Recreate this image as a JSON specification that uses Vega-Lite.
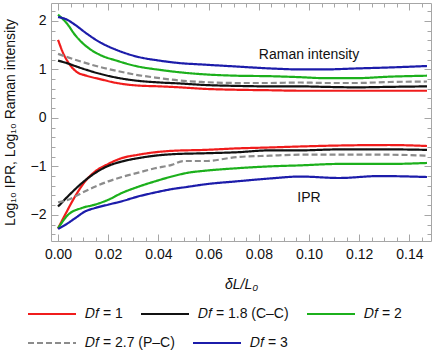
{
  "$schema": "https://vega.github.io/schema/vega-lite/v6.json",
  "width": 380,
  "height": 238,
  "autosize": {"type": "none"},
  "padding": {"left": 51, "top": 3, "right": 5, "bottom": 118},
  "config": {
    "font": "Liberation Sans",
    "view": {"stroke": "#a6a6a6", "strokeWidth": 1},
    "axis": {"domain": false, "grid": false, "tickColor": "#a6a6a6", "labelColor": "#111", "titleColor": "#111", "labelFont": "Liberation Sans", "titleFont": "Liberation Sans", "labelFontSize": 14, "titleFontSize": 14, "titleFontWeight": "normal"},
    "legend": {"labelFont": "Liberation Sans"}
  },
  "datasets": {
    "lines": [
      {"s":"1","q":"R","x":0,"y":1.61},{"s":"1","q":"R","x":0.0021,"y":1.33},{"s":"1","q":"R","x":0.0048,"y":1.09},{"s":"1","q":"R","x":0.0074,"y":0.95},{"s":"1","q":"R","x":0.0114,"y":0.87},{"s":"1","q":"R","x":0.0167,"y":0.80},{"s":"1","q":"R","x":0.0234,"y":0.72},{"s":"1","q":"R","x":0.031,"y":0.67},{"s":"1","q":"R","x":0.0406,"y":0.65},{"s":"1","q":"R","x":0.0486,"y":0.63},{"s":"1","q":"R","x":0.0578,"y":0.60},{"s":"1","q":"R","x":0.071,"y":0.58},{"s":"1","q":"R","x":0.0845,"y":0.57},{"s":"1","q":"R","x":0.0964,"y":0.56},{"s":"1","q":"R","x":0.106,"y":0.56},{"s":"1","q":"R","x":0.119,"y":0.56},{"s":"1","q":"R","x":0.132,"y":0.56},{"s":"1","q":"R","x":0.147,"y":0.56},
      {"s":"1.8","q":"R","x":0,"y":1.18},{"s":"1.8","q":"R","x":0.0035,"y":1.13},{"s":"1.8","q":"R","x":0.0068,"y":1.07},{"s":"1.8","q":"R","x":0.0114,"y":0.99},{"s":"1.8","q":"R","x":0.0167,"y":0.91},{"s":"1.8","q":"R","x":0.0234,"y":0.83},{"s":"1.8","q":"R","x":0.031,"y":0.77},{"s":"1.8","q":"R","x":0.0406,"y":0.73},{"s":"1.8","q":"R","x":0.0486,"y":0.71},{"s":"1.8","q":"R","x":0.0578,"y":0.68},{"s":"1.8","q":"R","x":0.071,"y":0.66},{"s":"1.8","q":"R","x":0.0845,"y":0.65},{"s":"1.8","q":"R","x":0.0964,"y":0.65},{"s":"1.8","q":"R","x":0.106,"y":0.64},{"s":"1.8","q":"R","x":0.119,"y":0.63},{"s":"1.8","q":"R","x":0.132,"y":0.64},{"s":"1.8","q":"R","x":0.147,"y":0.65},
      {"s":"2","q":"R","x":0,"y":2.13},{"s":"2","q":"R","x":0.0035,"y":1.95},{"s":"2","q":"R","x":0.0068,"y":1.71},{"s":"2","q":"R","x":0.0114,"y":1.47},{"s":"2","q":"R","x":0.0167,"y":1.30},{"s":"2","q":"R","x":0.0234,"y":1.18},{"s":"2","q":"R","x":0.031,"y":1.07},{"s":"2","q":"R","x":0.0406,"y":0.99},{"s":"2","q":"R","x":0.0486,"y":0.94},{"s":"2","q":"R","x":0.0578,"y":0.90},{"s":"2","q":"R","x":0.071,"y":0.87},{"s":"2","q":"R","x":0.0845,"y":0.86},{"s":"2","q":"R","x":0.0964,"y":0.84},{"s":"2","q":"R","x":0.106,"y":0.82},{"s":"2","q":"R","x":0.119,"y":0.82},{"s":"2","q":"R","x":0.132,"y":0.85},{"s":"2","q":"R","x":0.147,"y":0.87},
      {"s":"2.7","q":"R","x":0,"y":1.32},{"s":"2.7","q":"R","x":0.0068,"y":1.20},{"s":"2.7","q":"R","x":0.0167,"y":1.05},{"s":"2.7","q":"R","x":0.0234,"y":0.97},{"s":"2.7","q":"R","x":0.031,"y":0.89},{"s":"2.7","q":"R","x":0.0406,"y":0.82},{"s":"2.7","q":"R","x":0.0486,"y":0.77},{"s":"2.7","q":"R","x":0.0578,"y":0.74},{"s":"2.7","q":"R","x":0.071,"y":0.72},{"s":"2.7","q":"R","x":0.0845,"y":0.72},{"s":"2.7","q":"R","x":0.0964,"y":0.73},{"s":"2.7","q":"R","x":0.106,"y":0.72},{"s":"2.7","q":"R","x":0.119,"y":0.72},{"s":"2.7","q":"R","x":0.132,"y":0.74},{"s":"2.7","q":"R","x":0.147,"y":0.75},
      {"s":"3","q":"R","x":0,"y":2.08},{"s":"3","q":"R","x":0.003,"y":2.04},{"s":"3","q":"R","x":0.0068,"y":1.92},{"s":"3","q":"R","x":0.0114,"y":1.74},{"s":"3","q":"R","x":0.0167,"y":1.56},{"s":"3","q":"R","x":0.0234,"y":1.40},{"s":"3","q":"R","x":0.031,"y":1.27},{"s":"3","q":"R","x":0.0406,"y":1.18},{"s":"3","q":"R","x":0.0486,"y":1.13},{"s":"3","q":"R","x":0.0578,"y":1.10},{"s":"3","q":"R","x":0.071,"y":1.06},{"s":"3","q":"R","x":0.0845,"y":1.02},{"s":"3","q":"R","x":0.0964,"y":1.00},{"s":"3","q":"R","x":0.106,"y":1.00},{"s":"3","q":"R","x":0.119,"y":1.02},{"s":"3","q":"R","x":0.132,"y":1.04},{"s":"3","q":"R","x":0.147,"y":1.07},
      {"s":"1","q":"I","x":0,"y":-2.28},{"s":"1","q":"I","x":0.0028,"y":-2.0},{"s":"1","q":"I","x":0.0068,"y":-1.62},{"s":"1","q":"I","x":0.0108,"y":-1.31},{"s":"1","q":"I","x":0.0147,"y":-1.11},{"s":"1","q":"I","x":0.02,"y":-0.95},{"s":"1","q":"I","x":0.0254,"y":-0.83},{"s":"1","q":"I","x":0.032,"y":-0.76},{"s":"1","q":"I","x":0.0386,"y":-0.71},{"s":"1","q":"I","x":0.0453,"y":-0.68},{"s":"1","q":"I","x":0.0586,"y":-0.66},{"s":"1","q":"I","x":0.071,"y":-0.63},{"s":"1","q":"I","x":0.0845,"y":-0.61},{"s":"1","q":"I","x":0.0964,"y":-0.59},{"s":"1","q":"I","x":0.112,"y":-0.57},{"s":"1","q":"I","x":0.132,"y":-0.56},{"s":"1","q":"I","x":0.147,"y":-0.58},
      {"s":"1.8","q":"I","x":0,"y":-1.83},{"s":"1.8","q":"I","x":0.0041,"y":-1.61},{"s":"1.8","q":"I","x":0.0094,"y":-1.35},{"s":"1.8","q":"I","x":0.0147,"y":-1.14},{"s":"1.8","q":"I","x":0.02,"y":-0.99},{"s":"1.8","q":"I","x":0.0254,"y":-0.90},{"s":"1.8","q":"I","x":0.032,"y":-0.83},{"s":"1.8","q":"I","x":0.0386,"y":-0.78},{"s":"1.8","q":"I","x":0.0453,"y":-0.75},{"s":"1.8","q":"I","x":0.0586,"y":-0.73},{"s":"1.8","q":"I","x":0.071,"y":-0.71},{"s":"1.8","q":"I","x":0.0845,"y":-0.67},{"s":"1.8","q":"I","x":0.0964,"y":-0.67},{"s":"1.8","q":"I","x":0.112,"y":-0.65},{"s":"1.8","q":"I","x":0.132,"y":-0.65},{"s":"1.8","q":"I","x":0.147,"y":-0.66},
      {"s":"2","q":"I","x":0,"y":-2.28},{"s":"2","q":"I","x":0.004,"y":-2.0},{"s":"2","q":"I","x":0.0094,"y":-1.86},{"s":"2","q":"I","x":0.0147,"y":-1.79},{"s":"2","q":"I","x":0.02,"y":-1.69},{"s":"2","q":"I","x":0.0254,"y":-1.55},{"s":"2","q":"I","x":0.032,"y":-1.42},{"s":"2","q":"I","x":0.0386,"y":-1.31},{"s":"2","q":"I","x":0.0453,"y":-1.21},{"s":"2","q":"I","x":0.052,"y":-1.13},{"s":"2","q":"I","x":0.0586,"y":-1.09},{"s":"2","q":"I","x":0.071,"y":-1.04},{"s":"2","q":"I","x":0.0845,"y":-1.0},{"s":"2","q":"I","x":0.0964,"y":-0.98},{"s":"2","q":"I","x":0.112,"y":-0.95},{"s":"2","q":"I","x":0.132,"y":-0.95},{"s":"2","q":"I","x":0.147,"y":-0.93},
      {"s":"2.7","q":"I","x":0,"y":-1.74},{"s":"2.7","q":"I","x":0.0041,"y":-1.69},{"s":"2.7","q":"I","x":0.0094,"y":-1.55},{"s":"2.7","q":"I","x":0.0147,"y":-1.42},{"s":"2.7","q":"I","x":0.02,"y":-1.31},{"s":"2.7","q":"I","x":0.0254,"y":-1.22},{"s":"2.7","q":"I","x":0.032,"y":-1.13},{"s":"2.7","q":"I","x":0.0386,"y":-1.04},{"s":"2.7","q":"I","x":0.0453,"y":-0.97},{"s":"2.7","q":"I","x":0.05,"y":-0.89},{"s":"2.7","q":"I","x":0.0586,"y":-0.89},{"s":"2.7","q":"I","x":0.071,"y":-0.81},{"s":"2.7","q":"I","x":0.0845,"y":-0.78},{"s":"2.7","q":"I","x":0.0964,"y":-0.76},{"s":"2.7","q":"I","x":0.112,"y":-0.76},{"s":"2.7","q":"I","x":0.132,"y":-0.76},{"s":"2.7","q":"I","x":0.147,"y":-0.78},
      {"s":"3","q":"I","x":0,"y":-2.29},{"s":"3","q":"I","x":0.0028,"y":-2.21},{"s":"3","q":"I","x":0.0068,"y":-2.07},{"s":"3","q":"I","x":0.0108,"y":-1.93},{"s":"3","q":"I","x":0.0147,"y":-1.86},{"s":"3","q":"I","x":0.02,"y":-1.79},{"s":"3","q":"I","x":0.0254,"y":-1.72},{"s":"3","q":"I","x":0.032,"y":-1.62},{"s":"3","q":"I","x":0.0386,"y":-1.54},{"s":"3","q":"I","x":0.0453,"y":-1.47},{"s":"3","q":"I","x":0.052,"y":-1.42},{"s":"3","q":"I","x":0.0586,"y":-1.37},{"s":"3","q":"I","x":0.071,"y":-1.31},{"s":"3","q":"I","x":0.0845,"y":-1.25},{"s":"3","q":"I","x":0.0964,"y":-1.21},{"s":"3","q":"I","x":0.112,"y":-1.24},{"s":"3","q":"I","x":0.128,"y":-1.20},{"s":"3","q":"I","x":0.147,"y":-1.22}
    ],
    "notes": [
      {"x": 0.10, "y": 1.29, "t": "Raman intensity"},
      {"x": 0.10, "y": -1.65, "t": "IPR"}
    ]
  },
  "layer": [
    {
      "data": {"name": "lines"},
      "mark": {"type": "line", "strokeWidth": 2.2, "interpolate": "monotone"},
      "encoding": {
        "x": {"field": "x", "type": "quantitative",
          "scale": {"domain": [-0.0028, 0.1486], "nice": false, "zero": false},
          "axis": {"orient": "bottom", "title": "δL/L₀", "titleFontStyle": "italic",
            "values": [0,0.005,0.01,0.015,0.02,0.025,0.03,0.035,0.04,0.045,0.05,0.055,0.06,0.065,0.07,0.075,0.08,0.085,0.09,0.095,0.1,0.105,0.11,0.115,0.12,0.125,0.13,0.135,0.14,0.145],
            "labelExpr": "abs(datum.value*50 - round(datum.value*50)) < 0.001 ? format(datum.value, '.2f') : ''",
            "tickSize": {"condition": {"test": "abs(datum.value*50 - round(datum.value*50)) < 0.001", "value": -7}, "value": -4},
            "labelPadding": 13, "titlePadding": 16, "labelFlush": false}},
        "y": {"field": "y", "type": "quantitative",
          "scale": {"domain": [-2.54, 2.37], "nice": false, "zero": false},
          "axis": {"orient": "left", "title": "Log₁₀ IPR,  Log₁₀ Raman intensity",
            "values": [-2.4,-2.2,-2,-1.8,-1.6,-1.4,-1.2,-1,-0.8,-0.6,-0.4,-0.2,0,0.2,0.4,0.6,0.8,1,1.2,1.4,1.6,1.8,2,2.2],
            "labelExpr": "abs(datum.value - round(datum.value)) < 0.001 ? format(datum.value, 'd') : ''",
            "tickSize": {"condition": {"test": "abs(datum.value - round(datum.value)) < 0.001", "value": -7}, "value": -4},
            "labelPadding": 12, "titlePadding": 13, "labelFlush": false}},
        "color": {"field": "s", "type": "nominal",
          "scale": {"domain": ["1","1.8","2","2.7","3"], "range": ["#f01c1c","#111111","#1cb01c","#8c8c8c","#1c1caa"]},
          "legend": {"title": null, "orient": "none", "direction": "horizontal", "legendX": -24, "legendY": 286, "values": ["1","1.8","2"],
            "symbolType": "stroke", "symbolSize": 2304, "symbolStrokeWidth": 2, "labelFontSize": 14, "labelOffset": 8,
            "columnPadding": 14, "padding": 0, "labelColor": "#111",
            "labelExpr": "'𝐷𝑓 = ' + datum.label + (datum.label == '1.8' ? ' (C–C)' : datum.label == '2.7' ? ' (P–C)' : '')"}},
        "strokeDash": {"field": "s", "type": "nominal",
          "scale": {"domain": ["2.7","3","1","1.8","2"], "range": [[6,3],[1,0],[1,0],[1,0],[1,0]]},
          "legend": {"title": null, "orient": "none", "direction": "horizontal", "legendX": -24, "legendY": 315, "values": ["2.7","3"],
            "symbolType": "stroke", "symbolSize": 2304, "symbolStrokeWidth": 2, "labelFontSize": 14, "labelOffset": 8,
            "columnPadding": 14, "padding": 0, "labelColor": "#111",
            "labelExpr": "'𝐷𝑓 = ' + datum.label + (datum.label == '1.8' ? ' (C–C)' : datum.label == '2.7' ? ' (P–C)' : '')",
            "encode": {"symbols": {"update": {"stroke": {"signal": "scale('color', datum.value)"}}}}}},
        "detail": {"field": "q"}
      }
    },
    {
      "data": {"name": "notes"},
      "mark": {"type": "text", "fontSize": 14, "font": "Liberation Sans", "color": "#111"},
      "encoding": {
        "x": {"field": "x", "type": "quantitative",
          "axis": {"orient": "top", "title": null, "labels": false,
            "values": [0,0.005,0.01,0.015,0.02,0.025,0.03,0.035,0.04,0.045,0.05,0.055,0.06,0.065,0.07,0.075,0.08,0.085,0.09,0.095,0.1,0.105,0.11,0.115,0.12,0.125,0.13,0.135,0.14,0.145],
            "tickSize": {"condition": {"test": "abs(datum.value*50 - round(datum.value*50)) < 0.001", "value": -7}, "value": -4}}},
        "y": {"field": "y", "type": "quantitative",
          "axis": {"orient": "right", "title": null, "labels": false,
            "values": [-2.4,-2.2,-2,-1.8,-1.6,-1.4,-1.2,-1,-0.8,-0.6,-0.4,-0.2,0,0.2,0.4,0.6,0.8,1,1.2,1.4,1.6,1.8,2,2.2],
            "tickSize": {"condition": {"test": "abs(datum.value - round(datum.value)) < 0.001", "value": -7}, "value": -4}}},
        "text": {"field": "t"}
      }
    }
  ],
  "resolve": {"axis": {"x": "independent", "y": "independent"}}
}
